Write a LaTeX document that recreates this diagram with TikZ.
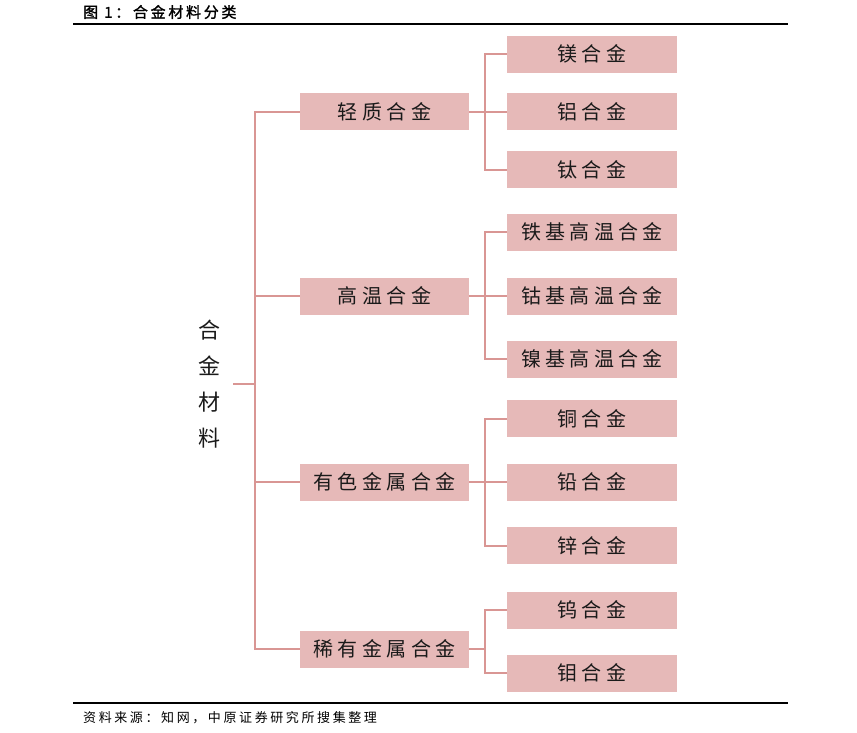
\documentclass[tikz,border=0pt]{standalone}
\usepackage{fontspec}
\setmainfont{Noto Sans CJK SC}
\newfontfamily\cjkbold[FakeBold=1.5,LetterSpace=18]{Noto Sans CJK SC}
\newfontfamily\cjkbox[LetterSpace=22]{Noto Sans CJK SC}
\newfontfamily\cjknote[LetterSpace=20]{Noto Sans CJK SC}
\definecolor{boxfill}{HTML}{E6B9B8}
\definecolor{linecol}{HTML}{D99694}
\definecolor{txt}{HTML}{1A1A1A}
\begin{document}
\begin{tikzpicture}[x=1pt,y=-1pt,
  lone/.style={fill=boxfill,draw=none,minimum width=169pt,minimum height=37pt,inner sep=0pt,
    font=\cjkbox\fontsize{20}{22}\selectfont,text=txt},
  ltwo/.style={fill=boxfill,draw=none,minimum width=170pt,minimum height=37pt,inner sep=0pt,
    font=\cjkbox\fontsize{20}{22}\selectfont,text=txt},
  conn/.style={draw=linecol,line width=2pt},
  rulex/.style={draw=black,line width=1.8pt}]
\useasboundingbox (0,0) rectangle (857,732);
% title and rules
\node[anchor=west,inner sep=0pt,font=\cjkbold\fontsize{15}{17}\selectfont] (title) at (83,12) {图 1：合金材料分类};
\coordinate (t1) at (73,24); \coordinate (t2) at (788,24);
\draw[rulex] (t1) -- (t2);
\coordinate (b1r) at (73,703); \coordinate (b2r) at (788,703);
\draw[rulex] (b1r) -- (b2r);
\node[anchor=west,inner sep=0pt,font=\cjknote\fontsize{13}{15}\selectfont] (src) at (83,718) {资料来源：知网，中原证券研究所搜集整理};
% root
\node[align=center,inner sep=0pt,font=\fontsize{22}{36}\selectfont,text=txt] (root) at (209,384) {合\\金\\材\\料};
\coordinate (rs) at (233,384);
\coordinate (bus) at (255,384);
% level 1
\node[lone] (a) at (384.5,111.5) {轻质合金};
\node[lone] (b) at (384.5,296) {高温合金};
\node[lone] (c) at (384.5,482) {有色金属合金};
\node[lone] (d) at (384.5,649) {稀有金属合金};
% level 2
\node[ltwo] (a1) at (592,54) {镁合金};
\node[ltwo] (a2) at (592,111.5) {铝合金};
\node[ltwo] (a3) at (592,169.5) {钛合金};
\node[ltwo] (b1) at (592,232) {铁基高温合金};
\node[ltwo] (b2) at (592,296) {钴基高温合金};
\node[ltwo] (b3) at (592,359) {镍基高温合金};
\node[ltwo] (c1) at (592,418.5) {铜合金};
\node[ltwo] (c2) at (592,482) {铅合金};
\node[ltwo] (c3) at (592,545.5) {锌合金};
\node[ltwo] (d1) at (592,610) {钨合金};
\node[ltwo] (d2) at (592,673) {钼合金};
% connectors
\draw[conn] (rs) -- (bus);
\foreach \n in {a,b,c,d}{\draw[conn] (bus) |- (\n.west);}
\foreach \n/\k in {a/a1,a/a2,a/a3,b/b1,b/b2,b/b3,c/c1,c/c2,c/c3,d/d1,d/d2}{
  \draw[conn] (\n.east) -- ([xshift=16pt]\n.east) |- (\k.west);}
\end{tikzpicture}
\end{document}
